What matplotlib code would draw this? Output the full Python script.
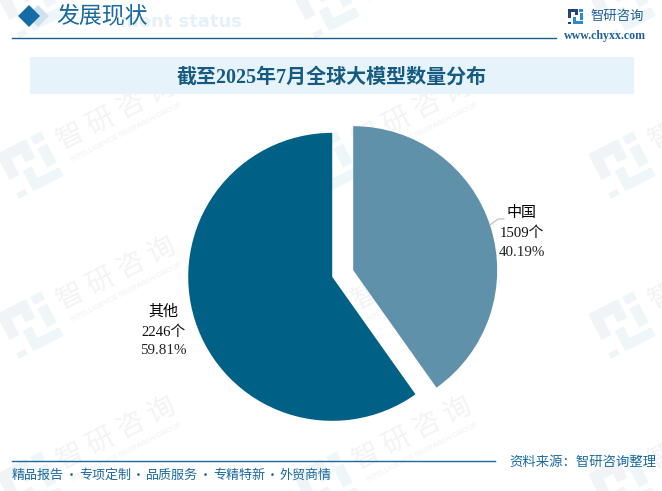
import matplotlib
matplotlib.use('Agg')
import matplotlib.pyplot as plt
from matplotlib.patches import Polygon, Rectangle
from matplotlib.transforms import Affine2D

W, H = 662, 491

labels = ["中国", "其他"]
counts = [1509, 2246]
count_labels = ["1509个", "2246个"]
pct_labels = ["40.19%", "59.81%"]
colors = ["#5f92aa", "#006085"]

title = "截至2025年7月全球大模型数量分布"
header = "发展现状"
ghost = "ment status"
brand = "智研咨询"
mark = "智 研 咨 询"
mark_en = "INTELLIGENCE RESEARCH GROUP"
site = "www.chyxx.com"
source = "资料来源：智研咨询整理"
footer = ["精品报告", "专项定制", "品质服务", "专精特新", "外贸商情"]
footer_x = [38, 105, 172, 239, 305]
dots_x = [71, 138, 205, 272]

SERIF = ['Liberation Serif', 'Noto Sans CJK SC']
SANS = ['Noto Sans CJK SC', 'DejaVu Sans']
BLUE = "#1a6a9e"


def Y(y):
    # picture pixels count from the top
    return H - y


def logo(ax, cx, cy, size, c1, c2, rot, z):
    # square logo, built on a unit grid then rotated round its centre
    tr = Affine2D().scale(size).rotate_deg(rot).translate(cx, Y(cy)) + ax.transData
    parts = [
        ((-0.5, 0.28), 0.66, 0.22, c1),
        ((-0.5, -0.08), 0.22, 0.36, c1),
        ((-0.06, 0.08), 0.22, 0.2, c1),
        ((-0.5, -0.5), 0.2, 0.12, c1),
        ((0.26, 0.32), 0.24, 0.18, c2),
        ((0.28, -0.2), 0.22, 0.42, c2),
        ((-0.18, -0.5), 0.68, 0.2, c2),
        ((-0.18, -0.3), 0.2, 0.26, c2),
    ]
    for xy, w, h, c in parts:
        ax.add_patch(Rectangle(xy, w, h, fc=c, ec='none', transform=tr, zorder=z))


fig = plt.figure(figsize=(W / 100, H / 100), dpi=100)
ax = fig.add_axes([0, 0, 1, 1])

ax.pie(counts, colors=colors, startangle=90, counterclock=False, radius=144,
       center=(342.7, Y(273.5)), explode=[11, 11], frame=True,
       wedgeprops=dict(linewidth=0, zorder=3))

ax.set_xlim(0, W)
ax.set_ylim(0, H)
ax.set_aspect('auto')
ax.axis('off')

# watermark grid
for wx in [30, 326, 622]:
    for wy in [5, 165, 325, 485]:
        logo(ax, wx, wy, 50, "#f1f4f7", "#eef6fa", 27, 0)
        ax.text(wx + 86, Y(wy - 51), mark, fontsize=20, color="#f3f3f5", rotation=27,
                ha='center', va='center', rotation_mode='anchor', family=SANS,
                zorder=0, clip_on=True)
        ax.text(wx + 96, Y(wy - 32), mark_en, fontsize=5.2, color="#eef0f2", rotation=27,
                ha='center', va='center', rotation_mode='anchor',
                family='Liberation Sans', zorder=0, clip_on=True)

# header
ax.text(242, Y(22), ghost, fontsize=13, fontweight='bold', color="#e4f1fa",
        ha='right', va='center', family='DejaVu Sans', zorder=1)
ax.add_patch(Polygon([(27, Y(16)), (38, Y(5)), (49, Y(16)), (38, Y(27))], fc="#cde2ee", ec='none', zorder=2))
ax.add_patch(Polygon([(18, Y(16)), (29, Y(5)), (40, Y(16)), (29, Y(27))], fc="#136ca5", ec='none', zorder=2))
ax.text(102, Y(16), header, fontsize=16.5, color="#1a6a9e", ha='center', va='center', family=SERIF, zorder=3)
ax.plot([12, 556], [Y(37.5), Y(37.5)], color="#155f8c", lw=1, zorder=2)

logo(ax, 575.5, 16.5, 15, "#24407f", "#2a8ccf", 0, 3)
ax.text(617, Y(16), brand, fontsize=9.6, color="#1f5f96", ha='center', va='center', family=SANS, zorder=3)
ax.text(605, Y(36), site, fontsize=8.6, color="#1f5f96", ha='center', va='center',
        family='Liberation Serif', fontweight='bold', zorder=3)

# title bar
ax.add_patch(Rectangle((30, Y(94)), 604, 37, fc="#e6f3fb", ec='none', zorder=1))
ax.text(332, Y(78), title, fontsize=14.4, fontweight='bold', color="#155a80",
        ha='center', va='center', family=SERIF, zorder=3)

# pie labels
ax.plot([490, 498, 504], [Y(225), Y(219), Y(219)], color="#b8b8b8", lw=0.8, zorder=4)
label_pos = [(522, [213, 233, 253]), (163, [312, 332, 351])]
for i, (lx, ys) in enumerate(label_pos):
    ax.text(lx, Y(ys[0]), labels[i], fontsize=10.8, color="black", ha='center', va='center', family=SERIF, zorder=4)
    ax.text(lx, Y(ys[1]), count_labels[i], fontsize=10.6, color="#111111", ha='center', va='center', family=SERIF, zorder=4)
    ax.text(lx, Y(ys[2]), pct_labels[i], fontsize=10.8, color="#222222", ha='center', va='center', family=SERIF, zorder=4)

# footer
ax.plot([12, 495], [Y(461), Y(461)], color=BLUE, lw=1, zorder=2)
ax.text(583, Y(462), source, fontsize=9.6, color=BLUE, ha='center', va='center', family=SANS, zorder=3)
for s, fx in zip(footer, footer_x):
    ax.text(fx, Y(475), s, fontsize=9.4, color=BLUE, ha='center', va='center', family=SANS, zorder=3)
for dx in dots_x:
    ax.text(dx, Y(475), "·", fontsize=9.4, color=BLUE, ha='center', va='center', family=SANS, zorder=3)

fig.savefig('out.png', dpi=100)
